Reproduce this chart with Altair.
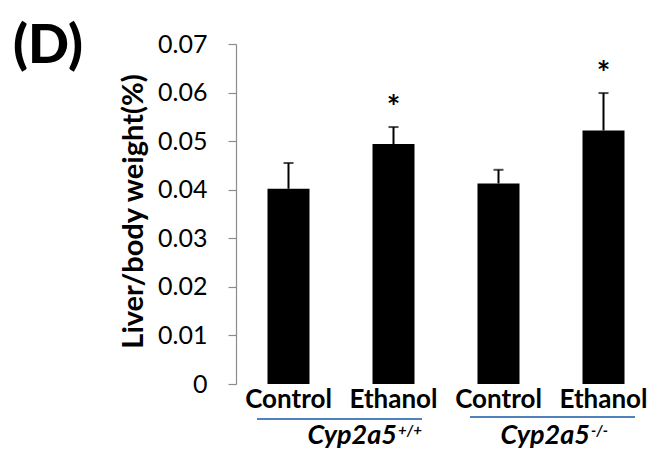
import altair as alt
import pandas as pd

panel_label = "(D)"
cats = ["c1", "e1", "c2", "e2"]
tick_labels = ["Control", "Ethanol", "Control", "Ethanol"]
means = [0.0402, 0.0494, 0.0413, 0.0522]
errs = [0.0053, 0.0035, 0.0028, 0.0077]
sig = ["", "*", "", "*"]
y_ticks = [0, 0.01, 0.02, 0.03, 0.04, 0.05, 0.06, 0.07]
y_title = "Liver/body weight(%)"
group_names = ["Cyp2a5", "Cyp2a5"]
group_sups = ["+/+", "-/-"]
group_start = ["c1", "c2"]
group_end = ["e1", "e2"]

FONT = "Lato"

df = pd.DataFrame({"cat": cats, "label": tick_labels, "mean": means,
                   "err": errs, "sig": sig})
df["hi"] = df["mean"] + df["err"]

label_map = "{" + ",".join(f"'{c}':'{l}'" for c, l in zip(cats, tick_labels)) + "}"

xscale = alt.Scale(domain=cats, paddingInner=0.6, paddingOuter=0.3)
yscale = alt.Scale(domain=[0, 0.07])

x_main = alt.X("cat:N", scale=xscale, sort=cats,
               axis=alt.Axis(title=None, labelExpr=f"{label_map}[datum.value]",
                             domain=False, ticks=False, labelAngle=0,
                             labelFontSize=26, labelFontWeight="bold",
                             labelFont=FONT, labelColor="black",
                             labelPadding=2))
y_main = alt.Y("mean:Q", scale=yscale,
               axis=alt.Axis(title=y_title, values=y_ticks, grid=False,
                             labelExpr="datum.value == 0 ? '0' : format(datum.value, '.2f')",
                             labelFontSize=25, labelFont=FONT, labelColor="black",
                             labelPadding=21, tickSize=8, tickColor="#8c8c8c",
                             domainColor="#8c8c8c", tickWidth=1.2, domainWidth=1.2,
                             titleFontSize=29, titleFontWeight="bold",
                             titleFont=FONT, titleColor="black",
                             titleX=-94, titleY=167, titleAngle=-90,
                             titleBaseline="alphabetic", titleAlign="center"))

base = alt.Chart(df)
bars = base.mark_bar(color="black").encode(x=x_main, y=y_main)
err_rule = base.mark_rule(color="black", strokeWidth=2).encode(
    x=alt.X("cat:N", scale=xscale), y=alt.Y("mean:Q", scale=yscale), y2="hi:Q")
err_cap = base.mark_tick(color="black", thickness=2, size=10).encode(
    x=alt.X("cat:N", scale=xscale), y=alt.Y("hi:Q", scale=yscale))
stars = base.mark_text(font=FONT, fontSize=32, fontWeight="bold", dy=-8,
                       baseline="alphabetic", color="black").encode(
    x=alt.X("cat:N", scale=xscale), y=alt.Y("hi:Q", scale=yscale), text="sig:N")

panel = alt.Chart(pd.DataFrame({"t": [panel_label]})).mark_text(
    font=FONT, fontSize=54, fontWeight=900, align="center",
    baseline="alphabetic", color="black").encode(
    text="t:N", x=alt.value(-188), y=alt.value(19))

gdf = pd.DataFrame({"cat": group_start, "cat2": group_end,
                    "name": group_names, "sup": group_sups})

layers = [bars, err_rule, err_cap, stars, panel]

rule_offsets = [(-31.5, 28.5, 375), (-28.5, 31.5, 373)]
name_dx = [3.5, -13.5]
for i in range(2):
    g = gdf.iloc[[i]]
    xo, x2o, yy = rule_offsets[i]
    layers.append(alt.Chart(g).mark_rule(color="#4f81bd", strokeWidth=2,
                                         xOffset=xo, x2Offset=x2o).encode(
        x=alt.X("cat:N", scale=xscale), x2="cat2:N", y=alt.value(yy)))
    gg = g.assign(cat=g["cat2"])
    layers.append(alt.Chart(gg).mark_text(
        font=FONT, fontSize=27, fontWeight="bold", fontStyle="italic",
        align="right", baseline="alphabetic", dx=name_dx[i], color="black").encode(
        x=alt.X("cat:N", scale=xscale), y=alt.value(400), text="name:N"))
    layers.append(alt.Chart(gg).mark_text(
        font=FONT, fontSize=15, fontWeight="bold", fontStyle="italic",
        align="left", baseline="alphabetic", dx=name_dx[i] + 1, color="black").encode(
        x=alt.X("cat:N", scale=xscale), y=alt.value(392), text="sup:N"))

chart = alt.layer(*layers).properties(
    width=420, height=340,
    autosize=alt.AutoSizeParams(type="none"),
    padding={"left": 228, "top": 36, "right": 0, "bottom": 69},
    background="white",
).configure_view(stroke=None)

chart.save("out.html", embed_options={"renderer": "svg", "actions": False})
